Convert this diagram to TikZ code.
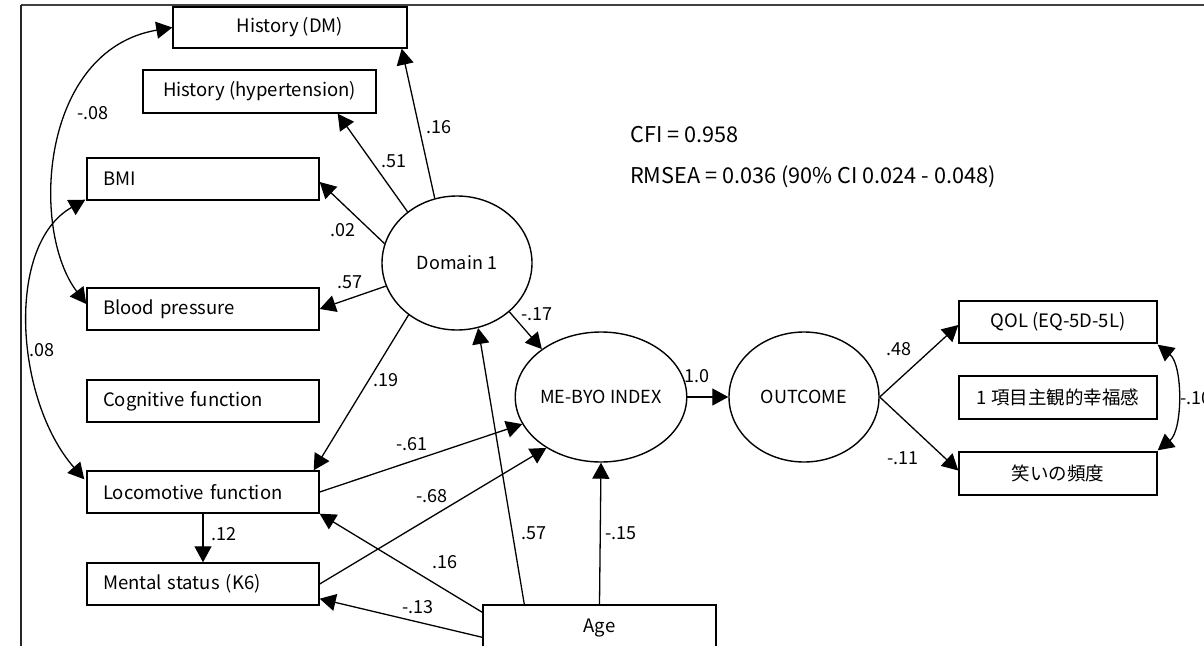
\documentclass[tikz,border=0pt]{standalone}
\usepackage{fontspec}
\setmainfont{Noto Sans CJK JP}
\usetikzlibrary{arrows.meta,shapes.geometric,calc}
\tikzset{
  box/.style={draw, line width=1.4pt, inner sep=0pt, minimum height=42pt, font=\fontsize{18.5}{21}\selectfont},
  lbox/.style={box, text width=200pt, inner xsep=16pt, align=left},
  cbox/.style={box, inner xsep=0pt},
  lat/.style={draw, ellipse, line width=1.4pt, inner sep=0pt, minimum width=150pt, font=\fontsize{18}{21}\selectfont},
  path/.style={line width=1.3pt, -{Triangle[length=16pt,width=17pt]}},
  cov/.style={line width=1.3pt, {Triangle[length=16pt,width=17pt]}-{Triangle[length=16pt,width=17pt]}},
  coef/.style={inner sep=0pt, font=\fontsize{18}{21}\selectfont},
  fit/.style={inner sep=0pt, anchor=west, font=\fontsize{21.7}{24}\selectfont},
}
\begin{document}
\begin{tikzpicture}[x=1pt, y=-1pt]
\useasboundingbox (0,0) rectangle (1204,645);
% frame
\draw[line width=2pt, black!75] (21,5) -- (1210,5);
\draw[line width=1.2pt, black!85] (21,5) -- (21,650);

% observed boxes
\node[cbox, minimum width=234pt, minimum height=41pt] (hdm) at (290,27.5) {History (DM)};
\node[cbox, minimum width=233pt, minimum height=43pt] (hht) at (259.5,91.5) {History (hypertension)};
\node[lbox] (bmi) at (203,179) {BMI};
\node[lbox] (bp) at (203,309) {Blood pressure};
\node[lbox] (cog) at (203,401) {Cognitive function};
\node[lbox] (loco) at (203,492) {Locomotive function};
\node[lbox] (ment) at (203,584) {Mental status (K6)};
\node[cbox, minimum width=233pt, minimum height=46pt] (age) at (599.5,628) {Age};
\node[cbox, minimum width=198pt] (qol) at (1058,322) {QOL (EQ-5D-5L)};
\node[cbox, minimum width=198pt, minimum height=43pt] (hap) at (1058,397.5) {1 項目主観的幸福感};
\node[cbox, minimum width=198pt, minimum height=43pt] (laugh) at (1058,473.5) {笑いの頻度};

% latent
\node[lat, minimum height=134pt] (dom) at (457,263) {Domain 1};
\node[lat, minimum height=130pt] (me) at (601,397) {ME-BYO INDEX};
\node[lat, minimum height=130pt] (out) at (804,397) {OUTCOME};

% fit indices
\node[fit] (cfi) at (630,135) {CFI = 0.958};
\node[fit] (rmsea) at (630,177) {RMSEA = 0.036 (90\% CI 0.024 - 0.048)};

% paths from Domain 1
\draw[path] (dom.109) -- ($(hdm.south east)+(-6,0)$);
\draw[path] (dom.134) -- ($(hht.south east)+(-39,0)$);
\draw[path] (dom.165) -- ($(bmi.east)+(0,3)$);
\draw[path] (dom.198) -- (bp.east);
\draw[path] (dom.227) -- ($(loco.north east)+(-6,0)$);
\draw[path] (dom.317) -- (me.141);

% paths into ME-BYO
\draw[path] (loco.east) -- (me.199);
\draw[path] (ment.east) -- (me.223);
\draw[path] (age.north) -- (me.south);
\draw[path] ($(age.north west)+(42,0)$) -- (dom.288);
\draw[path] ($(age.north west)+(0,8)$) -- (loco.south east);
\draw[path] ($(age.north west)+(0,33)$) -- ($(ment.south east)+(0,-7)$);
\draw[path] (loco.south) -- (ment.north);
\draw[path] (me.east) -- (out.west);
\draw[path] (out.east) -- ($(qol.west)+(0,3)$);
\draw[path] (out.east) -- ($(laugh.west)+(0,-3)$);

% covariances
\draw[cov] ($(bp.west)+(0,-5)$) .. controls (30,230) and (40,50) .. (hdm.west);
\draw[cov] ($(loco.north west)+(-2,9)$) .. controls (15,400) and (5,245) .. ($(bmi.south west)+(-1,-1)$);
\draw[cov] ($(qol.south east)+(0,1)$) .. controls (1183,365) and (1183,430) .. ($(laugh.north east)+(0,-1)$);

% coefficients
\node[coef] (c1) at (439,127) {.16};
\node[coef] (c2) at (394,161) {.51};
\node[coef] (c3) at (343,230) {.02};
\node[coef] (c4) at (350,282) {.57};
\node[coef] (c5) at (386,380) {.19};
\node[coef] (c6) at (537,314) {-.17};
\node[coef] (c7) at (697,376) {1.0};
\node[coef] (c8) at (412,444) {-.61};
\node[coef] (c9) at (432,496) {-.68};
\node[coef] (c10) at (534,533) {.57};
\node[coef] (c11) at (621,533) {-.15};
\node[coef] (c12) at (445,562) {.16};
\node[coef] (c13) at (418,607) {-.13};
\node[coef] (c14) at (224,534) {.12};
\node[coef] (c15) at (899,349) {.48};
\node[coef] (c16) at (903,458) {-.11};
\node[coef] (c17) at (93,113) {-.08};
\node[coef] (c18) at (42,350) {.08};
\node[coef, anchor=west] (c19) at (1180,398) {-.10};
\end{tikzpicture}
\end{document}
